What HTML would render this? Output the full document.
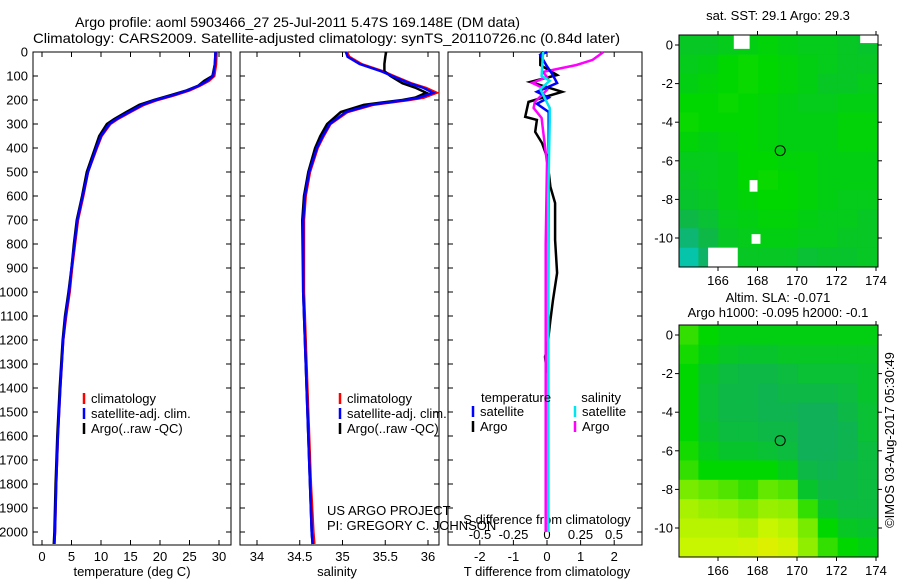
<!DOCTYPE html>
<html><head><meta charset="utf-8"><style>
html,body{margin:0;padding:0;background:#fff;}
svg{display:block;font-family:"Liberation Sans",sans-serif;}
text{fill:#000;}
</style></head><body>
<svg id="fig" width="900" height="580" viewBox="0 0 900 580" xmlns="http://www.w3.org/2000/svg">
<text x="75" y="27" font-size="14" textLength="445" lengthAdjust="spacingAndGlyphs">Argo profile: aoml 5903466_27 25-Jul-2011 5.47S 169.148E (DM data)</text>
<text x="33" y="43" font-size="14" textLength="587" lengthAdjust="spacingAndGlyphs">Climatology: CARS2009. Satellite-adjusted climatology: synTS_20110726.nc (0.84d later)</text>
<g id="g1"></g>
<g id="g2"></g>
<g id="g3"></g>
<g id="m1"></g>
<g id="m2"></g>
<text x="327" y="515" font-size="13">US ARGO PROJECT</text>
<text x="327" y="530" font-size="13">PI: GREGORY C. JOHNSON</text>
<text x="778" y="20" font-size="13" text-anchor="middle">sat. SST: 29.1 Argo: 29.3</text>
<text x="778" y="302" font-size="13" text-anchor="middle">Altim. SLA: -0.071</text>
<text x="778" y="317" font-size="13" text-anchor="middle">Argo h1000: -0.095 h2000: -0.1</text>
<text x="0" y="0" font-size="13" text-anchor="middle" transform="translate(894,440) rotate(-90)">©IMOS 03-Aug-2017 05:30:49</text>
</svg>
<script>
// ---- depth profile data ----
const tDepth = [0,50,100,120,140,160,180,200,220,250,280,300,350,400,500,600,700,800,900,1000,1100,1200,1400,1600,1800,2000,2050];
const tClim  = [29.6,29.5,29.2,28.3,26.8,25.0,22.5,19.6,17.3,15.0,12.8,11.6,10.1,9.3,7.8,7.0,6.1,5.6,5.1,4.7,4.1,3.6,3.1,2.7,2.4,2.2,2.1];
const tSat   = [29.4,29.3,29.0,28.0,26.6,24.7,22.2,19.3,17.0,14.8,12.6,11.4,10.0,9.2,7.8,6.9,6.0,5.5,5.0,4.6,4.0,3.6,3.1,2.7,2.4,2.2,2.1];
const tArgo  = [29.4,29.3,28.9,27.5,26.5,24.5,21.8,19.0,16.5,14.3,12.2,11.0,9.7,9.0,7.6,6.8,5.9,5.4,5.0,4.5,3.9,3.5,3.0,2.6,2.3,2.1,2.0];
const sDepth = [0,20,50,80,100,130,150,170,190,200,220,250,300,350,400,500,600,700,1000,1400,1800,2000,2050];
const sClim  = [35.05,35.08,35.22,35.47,35.60,35.80,35.98,36.10,35.95,35.78,35.36,35.06,34.86,34.78,34.71,34.62,34.57,34.55,34.55,34.59,34.63,34.66,34.67];
const sSat   = [35.04,35.06,35.20,35.45,35.58,35.78,35.95,36.06,35.90,35.74,35.33,35.04,34.85,34.77,34.70,34.61,34.56,34.54,34.54,34.58,34.62,34.64,34.65];
const sArgo  = [35.51,35.50,35.49,35.49,35.56,35.70,35.86,35.98,35.85,35.70,35.25,34.98,34.82,34.74,34.68,34.60,34.55,34.53,34.54,34.58,34.62,34.64,34.65];
// ---- difference profile data ----
const dArgoTDepth = [0,12,54,96,125,166,208,270,283,333,379,437,562,629,783,921,1033,1117,1242,1270,1337];
const dArgoT      = [-0.1,-0.2,-0.2,0.3,-0.5,0.45,-0.55,-0.65,-0.3,-0.35,-0.15,0,0.1,0.24,0.24,0.3,0.18,0.1,0,-0.06,0];
const dSatTDepth  = [0,12,60,90,129,166,190,216,250,400,1000,1500,2000];
const dSatT       = [0,-0.2,0,0.15,0.3,-0.3,0.05,-0.3,0.05,0.05,0.04,0.04,0.04];
const dArgoSDepth = [0,5,33,54,83,104,129,158,208,233,275,325,462,800,1200,1600,2000];
const dArgoS      = [0.42,0.41,0.34,0.22,-0.03,0,-0.11,0,-0.09,-0.1,-0.04,-0.03,0,-0.01,-0.01,-0.01,-0.01];
const dSatSDepth  = [0,5,100,120,155,200,233,290,600,1200,2000];
const dSatS       = [-0.03,-0.03,-0.04,0.02,-0.05,-0.01,0.02,0.02,0.01,0.01,0.01];
// ---- axis ticks ----
const depthTicks = [0,100,200,300,400,500,600,700,800,900,1000,1100,1200,1300,1400,1500,1600,1700,1800,1900,2000];
const tempTicks = [0,5,10,15,20,25,30];
const salTicks = [34,34.5,35,35.5,36];
const salTickLabels = ["34","34.5","35","35.5","36"];
const tdTicks = [-2,-1,0,1,2];
const sdTicks = [-0.5,-0.25,0,0.25,0.5];
const sdTickLabels = ["-0.5","-0.25","0","0.25","0.5"];
// ---- map data (rows from lat 0.5 to -11.5, cols 164..174) ----
const sstGrid = [
[.46,.46,.47,.48,.49,.48,.47,.47,.46,.45],
[.47,.48,.5,.51,.5,.49,.48,.47,.46,.46],
[.48,.49,.5,.51,.5,.49,.48,.46,.46,.47],
[.5,.5,.51,.5,.49,.48,.47,.47,.48,.48],
[.51,.5,.5,.5,.49,.48,.48,.48,.49,.49],
[.49,.48,.49,.5,.49,.48,.48,.48,.49,.49],
[.47,.47,.48,.5,.5,.49,.49,.48,.48,.48],
[.46,.47,.48,.5,.51,.5,.49,.48,.48,.48],
[.45,.46,.48,.49,.5,.5,.49,.48,.47,.47],
[.42,.44,.47,.48,.49,.49,.48,.47,.47,.46],
[.36,.42,.46,.47,.48,.48,.47,.47,.46,.46],
[.28,.38,.45,.46,.46,.46,.44,.45,.45,.46]];
const slaGrid = [
[.55,.5,.48,.48,.48,.48,.48,.48,.48,.48],
[.52,.48,.46,.45,.45,.46,.46,.46,.46,.46],
[.5,.45,.43,.42,.42,.43,.44,.44,.44,.45],
[.5,.44,.42,.42,.41,.42,.42,.42,.43,.45],
[.5,.44,.42,.42,.41,.41,.4,.4,.42,.44],
[.5,.45,.43,.43,.42,.42,.4,.4,.41,.44],
[.52,.47,.45,.45,.44,.43,.4,.4,.41,.43],
[.55,.5,.5,.5,.5,.47,.42,.41,.42,.43],
[.62,.6,.58,.55,.6,.58,.45,.42,.42,.43],
[.68,.66,.65,.62,.66,.65,.55,.45,.43,.43],
[.7,.7,.7,.68,.72,.7,.62,.5,.46,.45],
[.72,.72,.72,.74,.78,.75,.65,.55,.5,.48]];
const gridLon0 = 164, gridLat0 = 0.5;
const maskLon = [166.8,167.6,167.7,165.5,173.2];
const maskLat = [0.5,-7.0,-9.8,-10.5,0.5];
const maskW   = [0.8,0.4,0.45,1.5,0.9];
const maskH   = [0.7,0.6,0.5,1.0,0.4];
const argoLon = 169.148, argoLat = -5.47;
const lonTicks = [166,168,170,172,174];
const latTicks = [0,-2,-4,-6,-8,-10];

const NS="http://www.w3.org/2000/svg";
const FS=13;
function el(parent,tag,attrs){const e=document.createElementNS(NS,tag);for(const k in attrs)e.setAttribute(k,attrs[k]);parent.appendChild(e);return e;}
const yD = d => 52 + d*0.24;
const TOP=52, BOT=545;
function poly(g,xs,ds,fx,color,w,name){
  const pts = xs.map((v,i)=>fx(v).toFixed(1)+","+yD(ds[i]).toFixed(1)).join(" ");
  const p = el(g,"polyline",{points:pts,fill:"none",stroke:color,"stroke-width":w});
  
  
}
function box(g,x0,x1,name){
  const r=el(g,"rect",{x:x0,y:TOP,width:x1-x0,height:BOT-TOP,fill:"none",stroke:"#000","stroke-width":1});
  
  
  depthTicks.forEach(d=>{
    el(g,"line",{x1:x0,x2:x0+5,y1:yD(d),y2:yD(d),stroke:"#000"});
    el(g,"line",{x1:x1,x2:x1-5,y1:yD(d),y2:yD(d),stroke:"#000"});
  });
}
function xticks(g,vals,labels,fx,ly,top){
  vals.forEach((v,i)=>{
    const x=fx(v);
    if(top) el(g,"line",{x1:x,x2:x,y1:TOP,y2:TOP+5,stroke:"#000"});
    el(g,"line",{x1:x,x2:x,y1:BOT,y2:BOT-5,stroke:"#000"});
    if(labels){const t=el(g,"text",{x:x,y:ly,"font-size":FS,"text-anchor":"middle"});t.textContent=labels[i];
      
      }
  });
}
function legend(g,x,y,items){
  items.forEach((it,i)=>{
    el(g,"line",{x1:x,x2:x,y1:y+i*15-10,y2:y+i*15+1,stroke:it[0],"stroke-width":2.5});
    const t=el(g,"text",{x:x+7,y:y+i*15,"font-size":FS});t.textContent=it[1];
    
    
  });
}
// Panel 1
const g1=document.getElementById("g1");
const xT = t => 42 + t*5.9;
box(g1,33,231,"temperature-axes");
depthTicks.forEach(d=>{const t=el(g1,"text",{x:28,y:yD(d)+4.5,"font-size":FS,"text-anchor":"end"});t.textContent=d;
  
  });
xticks(g1,tempTicks,tempTicks.map(String),xT,561,true);
poly(g1,tClim,tDepth,xT,"#ff0000",2.5,"temp-climatology-line");
poly(g1,tArgo,tDepth,xT,"#000",2.5,"temp-argo-line");
poly(g1,tSat,tDepth,xT,"#0000ff",2.5,"temp-satellite-line");
legend(g1,84,403,[["#ff0000","climatology"],["#0000ff","satellite-adj. clim."],["#000","Argo(..raw -QC)"]]);
const l1=el(g1,"text",{x:132,y:576,"font-size":FS,"text-anchor":"middle"});l1.textContent="temperature (deg C)";


// Panel 2
const g2=document.getElementById("g2");
const xS = s => 257 + (s-34)*85.5;
box(g2,240,439,"salinity-axes");
xticks(g2,salTicks,salTickLabels,xS,561,true);
poly(g2,sClim,sDepth,xS,"#ff0000",2.5,"sal-climatology-line");
poly(g2,sArgo,sDepth,xS,"#000",2.5,"sal-argo-line");
poly(g2,sSat,sDepth,xS,"#0000ff",2.5,"sal-satellite-line");
legend(g2,340,403,[["#ff0000","climatology"],["#0000ff","satellite-adj. clim."],["#000","Argo(..raw -QC)"]]);
const l2=el(g2,"text",{x:337,y:576,"font-size":FS,"text-anchor":"middle"});l2.textContent="salinity";


// Panel 3
const g3=document.getElementById("g3");
const xTd = v => 547 + v*33.6;
const xSd = v => 547 + v*134;
box(g3,448,642,"difference-axes");
xticks(g3,tdTicks,tdTicks.map(String),xTd,561,true);
sdTicks.forEach((v,i)=>{const t=el(g3,"text",{x:xSd(v),y:539,"font-size":FS,"text-anchor":"middle"});t.textContent=sdTickLabels[i];
  
  });
const l3a=el(g3,"text",{x:547,y:524,"font-size":FS,"text-anchor":"middle"});l3a.textContent="S difference from climatology";


const l3=el(g3,"text",{x:547,y:576,"font-size":FS,"text-anchor":"middle"});l3.textContent="T difference from climatology";


poly(g3,dArgoT,dArgoTDepth,xTd,"#000",2.5,"t-diff-argo-line");
poly(g3,dArgoS,dArgoSDepth,xSd,"#ff00ff",2.5,"s-diff-argo-line");
poly(g3,dSatT,dSatTDepth,xTd,"#0000ff",2.5,"t-diff-satellite-line");
poly(g3,dSatS,dSatSDepth,xSd,"#00e5ee",2.5,"s-diff-satellite-line");
const lt=el(g3,"text",{x:481,y:402,"font-size":FS});lt.textContent="temperature";


const ls=el(g3,"text",{x:621,y:402,"font-size":FS,"text-anchor":"end"});ls.textContent="salinity";


legend(g3,473,416,[["#0000ff","satellite"],["#000","Argo"]]);
legend(g3,575,416,[["#00e5ee","satellite"],["#ff00ff","Argo"]]);
// Maps
function cmap(v){
  const stops=[[0.2,[0,210,225]],[0.4,[16,176,88]],[0.5,[0,215,0]],[0.62,[120,235,0]],[0.72,[200,245,0]],[0.85,[245,235,0]]];
  if(v<=stops[0][0]) return "rgb("+stops[0][1]+")";
  for(let i=1;i<stops.length;i++){ if(v<=stops[i][0]){const a=stops[i-1],b=stops[i];const f=(v-a[0])/(b[0]-a[0]);
    return "rgb("+a[1].map((c,j)=>Math.round(c+(b[1][j]-c)*f)).join(",")+")";}}
  return "rgb("+stops[stops.length-1][1]+")";
}
function map(id,grid,top,bottom,lat0y,masks,name){
  const g=document.getElementById(id);
  const L=679,R=878;
  const xL = lon => 718 + (lon-166)*19.75;
  const yL = lat => lat0y - lat*19.3;
  const cw=(R-L)/grid[0].length;
  grid.forEach((row,r)=>row.forEach((v,c)=>{
    const y0=Math.max(top,yL(gridLat0-r)), y1=Math.min(bottom,yL(gridLat0-r-1));
    const cell=el(g,"rect",{x:(xL(gridLon0)+c*cw).toFixed(1),y:y0.toFixed(1),width:(cw+0.5).toFixed(1),height:(y1-y0+0.5).toFixed(1),fill:cmap(v)});
    
    
  }));
  if(masks){maskLon.forEach((lo,i)=>{
    const m=el(g,"rect",{x:xL(lo),y:Math.max(top,yL(maskLat[i])),width:maskW[i]*19.75,height:maskH[i]*19.3,fill:"#fff"});
    
    
  });}
  const fr=el(g,"rect",{x:L,y:top,width:R-L,height:bottom-top,fill:"none",stroke:"#000","stroke-width":1});
  
  
  lonTicks.forEach(lo=>{const x=xL(lo);
    el(g,"line",{x1:x,x2:x,y1:top,y2:top-4,stroke:"#000"});
    el(g,"line",{x1:x,x2:x,y1:bottom,y2:bottom+4,stroke:"#000"});
    const t=el(g,"text",{x:x,y:bottom+18,"font-size":FS,"text-anchor":"middle"});t.textContent=lo;
    
    });
  latTicks.forEach(la=>{const y=yL(la);
    el(g,"line",{x1:L,x2:L-4,y1:y,y2:y,stroke:"#000"});
    el(g,"line",{x1:R,x2:R+4,y1:y,y2:y,stroke:"#000"});
    const t=el(g,"text",{x:673,y:y+4.5,"font-size":FS,"text-anchor":"end"});t.textContent=la;
    
    });
  const c=el(g,"circle",{cx:xL(argoLon),cy:yL(argoLat),r:5,fill:"none",stroke:"#000","stroke-width":1});
  
  
}
map("m1",sstGrid,35,267,45,true,"sst-map");
map("m2",slaGrid,325,557,335,false,"sla-map");
</script>
</body></html>
